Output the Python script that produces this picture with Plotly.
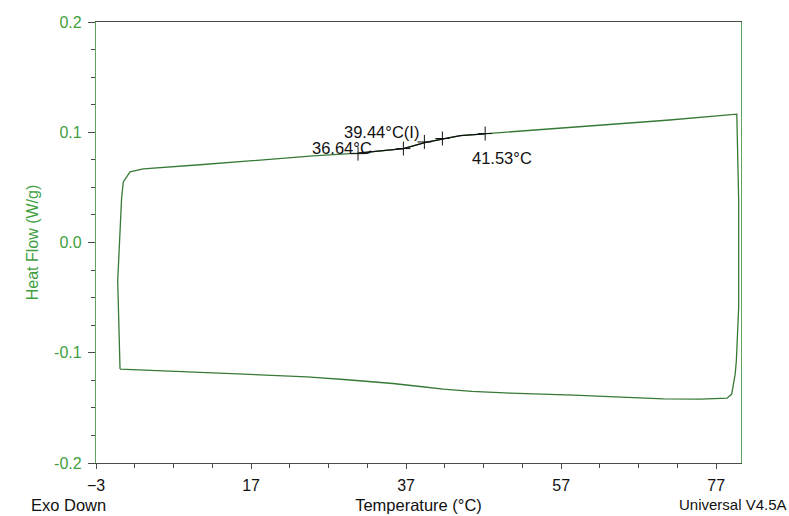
import plotly.graph_objects as go

# ---- data ----
loop_temp = [0.1, 6.1, 13.9, 17.7, 24.2, 29.4, 35.3, 38.8, 41.8, 45.5, 50.4, 58.6, 66.8, 70.2, 75.0, 78.4, 79.0, 79.45, 79.6,
             79.9, 79.9, 79.75, 79.66,
             70.6, 62.0, 49.1, 47.2, 44.0, 41.7, 39.4, 36.65, 33.5, 30.8, 25.0, 19.0, 10.4, 3.1, 1.39, 0.52,
             0.3, -0.2, -0.03, 0.1]
loop_hf = [-0.1148, -0.1164, -0.1185, -0.1197, -0.1218, -0.1245, -0.1279, -0.1306, -0.1330, -0.1350, -0.1366, -0.1385, -0.1406, -0.1418, -0.1420, -0.1412, -0.1375, -0.1194, -0.1073,
           -0.059, 0.038, 0.105, 0.1164,
           0.1109, 0.1064, 0.0990, 0.0985, 0.0970, 0.0940, 0.0905, 0.0852, 0.0830, 0.0810, 0.0785, 0.0750, 0.0705, 0.0668, 0.0640, 0.0550,
           0.040, -0.035, -0.089, -0.1148]

analysis_temp = [30.8, 33.5, 36.65, 39.4, 41.7, 44.0, 47.2]
analysis_hf = [0.0810, 0.0830, 0.0852, 0.0905, 0.0940, 0.0970, 0.0985]

marker_temp = [30.8, 36.65, 39.36, 41.68, 47.2]
marker_hf = [0.0806, 0.0852, 0.0912, 0.0943, 0.0988]

label_text = ["36.64°C", "39.44°C(I)", "41.53°C"]
label_temp = [32.9, 33.8, 49.4]
label_hf = [0.0855, 0.1000, 0.0764]
label_anchor = ["right", "center", "center"]

x_tickvals = [-3, 17, 37, 57, 77]
y_tickvals = [-0.2, -0.1, 0.0, 0.1, 0.2]
y_ticktext = ["-0.2", "-0.1", "0.0", "0.1", "0.2"]

CURVE = "#367a36"
GREEN_TXT = "#3f9f3f"
GREEN_AX = "#5ea35e"
DARK = "#4a4a4a"
REG = "Liberation Sans, Arial, sans-serif"

fig = go.Figure()
fig.add_trace(go.Scatter(x=loop_temp, y=loop_hf, mode="lines",
                         line=dict(color=CURVE, width=1.3), hoverinfo="skip", showlegend=False))
fig.add_trace(go.Scatter(x=analysis_temp, y=analysis_hf, mode="lines",
                         line=dict(color="#111111", width=1.3), hoverinfo="skip", showlegend=False))
fig.add_trace(go.Scatter(x=marker_temp, y=marker_hf, mode="markers",
                         marker=dict(symbol="cross-thin", size=10, line=dict(color="#111111", width=1)),
                         hoverinfo="skip", showlegend=False))

for t, xv, yv, anc in zip(label_text, label_temp, label_hf, label_anchor):
    fig.add_annotation(x=xv, y=yv, text=t, showarrow=False, xanchor=anc, yanchor="middle",
                       font=dict(family=REG, size=16.5, color="#111111"))

fig.add_annotation(x=-0.043, y=-0.095, xref="paper", yref="paper", text="Exo Down", showarrow=False,
                   xanchor="center", yanchor="middle", font=dict(family=REG, size=16.5, color="#111111"))
fig.add_annotation(x=1.075, y=-0.095, xref="paper", yref="paper", text="Universal V4.5A", showarrow=False,
                   xanchor="right", yanchor="middle", font=dict(family=REG, size=15, color="#111111"))

fig.update_layout(
    width=789, height=516,
    margin=dict(l=96, r=48, t=22, b=53),
    paper_bgcolor="white", plot_bgcolor="white",
    showlegend=False,
    xaxis=dict(range=[-3, 80.2], tickvals=x_tickvals, showgrid=False, zeroline=False, automargin=False,
               showline=True, linecolor=DARK, linewidth=1.2, mirror=True,
               ticks="outside", ticklen=5, tickcolor=DARK, ticklabelstandoff=3,
               minor=dict(ticks="outside", ticklen=4, tickcolor=DARK, dtick=5, tick0=-3, showgrid=False),
               tickfont=dict(family=REG, size=16, color="#111111"),
               title=dict(text="Temperature (°C)", font=dict(family=REG, size=16.5, color="#111111"), standoff=6)),
    yaxis=dict(range=[-0.2, 0.2], tickvals=y_tickvals, ticktext=y_ticktext, showgrid=False, zeroline=False, automargin=False,
               showline=True, linecolor=GREEN_AX, linewidth=1.2, mirror=True,
               ticks="outside", ticklen=7, tickcolor=DARK, ticklabelstandoff=3,
               minor=dict(ticks="outside", ticklen=4, tickcolor=DARK, dtick=0.025, tick0=-0.2, showgrid=False),
               tickfont=dict(family=REG, size=16, color=GREEN_TXT),
               title=dict(text="Heat Flow (W/g)", font=dict(family=REG, size=16, color=GREEN_TXT), standoff=11)),
)

fig.write_html("out.html", config={"displayModeBar": False},
               post_script="document.body.style.margin='0';document.body.style.overflow='hidden';")
